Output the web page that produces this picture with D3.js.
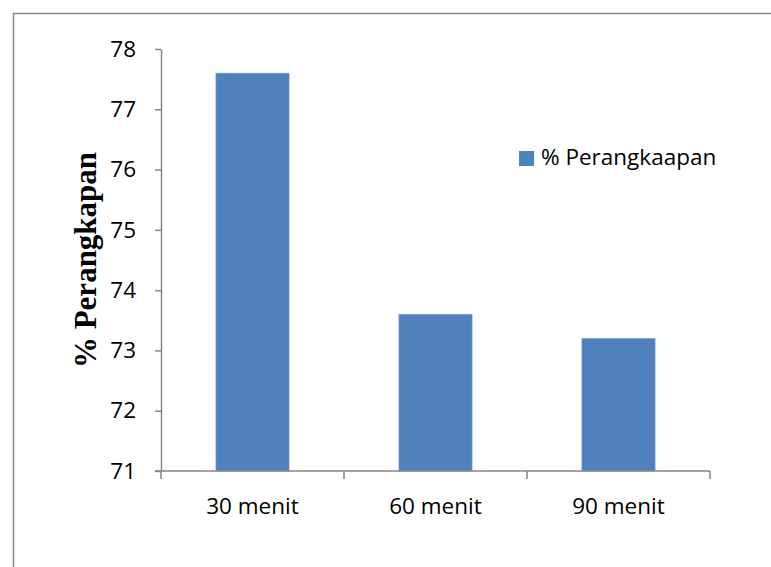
<!DOCTYPE html>
<html>
<head>
<meta charset="utf-8">
<script src="https://cdn.jsdelivr.net/npm/d3@7"></script>
<style>
  html, body { margin: 0; padding: 0; background: #fff; }
  svg { display: block; }
</style>
</head>
<body>
<svg id="chart" width="771" height="567"></svg>
<script>
const categories = ["30 menit", "60 menit", "90 menit"];
const values = [77.6, 73.6, 73.2];
const seriesName = "% Perangkaapan";
const yTicks = [71, 72, 73, 74, 75, 76, 77, 78];
const yTitle = "% Perangkapan";

const svg = d3.select("#chart");
const plot = { left: 161, right: 710, top: 49, bottom: 471 };
const axisColor = "#868686";
const barColor = "#4F81BD";
const font = "'Open Sans', 'Liberation Sans', sans-serif";

// outer chart border (extends past the photographed area)
svg.append("rect")
  .attr("x", 13.5).attr("y", 13.5)
  .attr("width", 800).attr("height", 600)
  .attr("fill", "none").attr("stroke", "#878787").attr("stroke-width", 1.5);

const x = d3.scaleBand().domain(categories)
  .range([plot.left, plot.right]).paddingInner(0.6).paddingOuter(0.3);
const y = d3.scaleLinear().domain([71, 78]).range([plot.bottom, plot.top]);

// bars
svg.append("g").selectAll("rect")
  .data(values)
  .join("rect")
  .attr("x", (d, i) => x(categories[i]))
  .attr("y", d => y(d))
  .attr("width", x.bandwidth())
  .attr("height", d => y(71) - y(d))
  .attr("fill", barColor)
  .attr("stroke", "#7fa3cf").attr("stroke-width", 0.6);

// y axis
const yAxis = svg.append("g")
  .attr("transform", `translate(${plot.left},0)`)
  .call(d3.axisLeft(y).tickValues(yTicks).tickFormat(d3.format("d"))
    .tickSize(6).tickPadding(19).tickSizeOuter(0));
yAxis.select(".domain").attr("stroke", axisColor).attr("stroke-width", 1.5);
yAxis.selectAll(".tick line").attr("stroke", axisColor).attr("stroke-width", 1.5);
yAxis.selectAll(".tick text")
  .attr("fill", "#000").style("font-family", font).style("font-size", "22.5px");

// x axis (ticks at band boundaries)
const xAxisG = svg.append("g").attr("transform", `translate(0,${plot.bottom})`);
xAxisG.append("line")
  .attr("x1", plot.left - 6).attr("x2", plot.right)
  .attr("stroke", axisColor).attr("stroke-width", 1.5);
const step = (plot.right - plot.left) / categories.length;
const boundaries = d3.range(categories.length + 1).map(i => plot.left + i * step);
xAxisG.selectAll("line.tk").data(boundaries).join("line")
  .attr("class", "tk")
  .attr("x1", d => d).attr("x2", d => d)
  .attr("y1", 0).attr("y2", 8)
  .attr("stroke", axisColor).attr("stroke-width", 1.5);
xAxisG.selectAll("text").data(categories).join("text")
  .attr("x", d => x(d) + x.bandwidth() / 2)
  .attr("y", 43)
  .attr("text-anchor", "middle")
  .attr("fill", "#000")
  .style("font-family", font).style("font-size", "22.5px")
  .text(d => d);

// y axis title
svg.append("text")
  .attr("transform", "translate(96,260) rotate(-90)")
  .attr("text-anchor", "middle")
  .style("font-family", "'Liberation Serif', 'Times New Roman', serif")
  .style("font-weight", "bold").style("font-size", "31px")
  .attr("fill", "#000")
  .text(yTitle);

// legend
const lg = svg.append("g").attr("transform", "translate(519,151)");
lg.append("rect").attr("width", 15).attr("height", 15).attr("fill", barColor);
lg.append("text").attr("x", 22).attr("y", 14)
  .style("font-family", font).style("font-size", "22.5px").attr("fill", "#000")
  .text(seriesName);
</script>
</body>
</html>
